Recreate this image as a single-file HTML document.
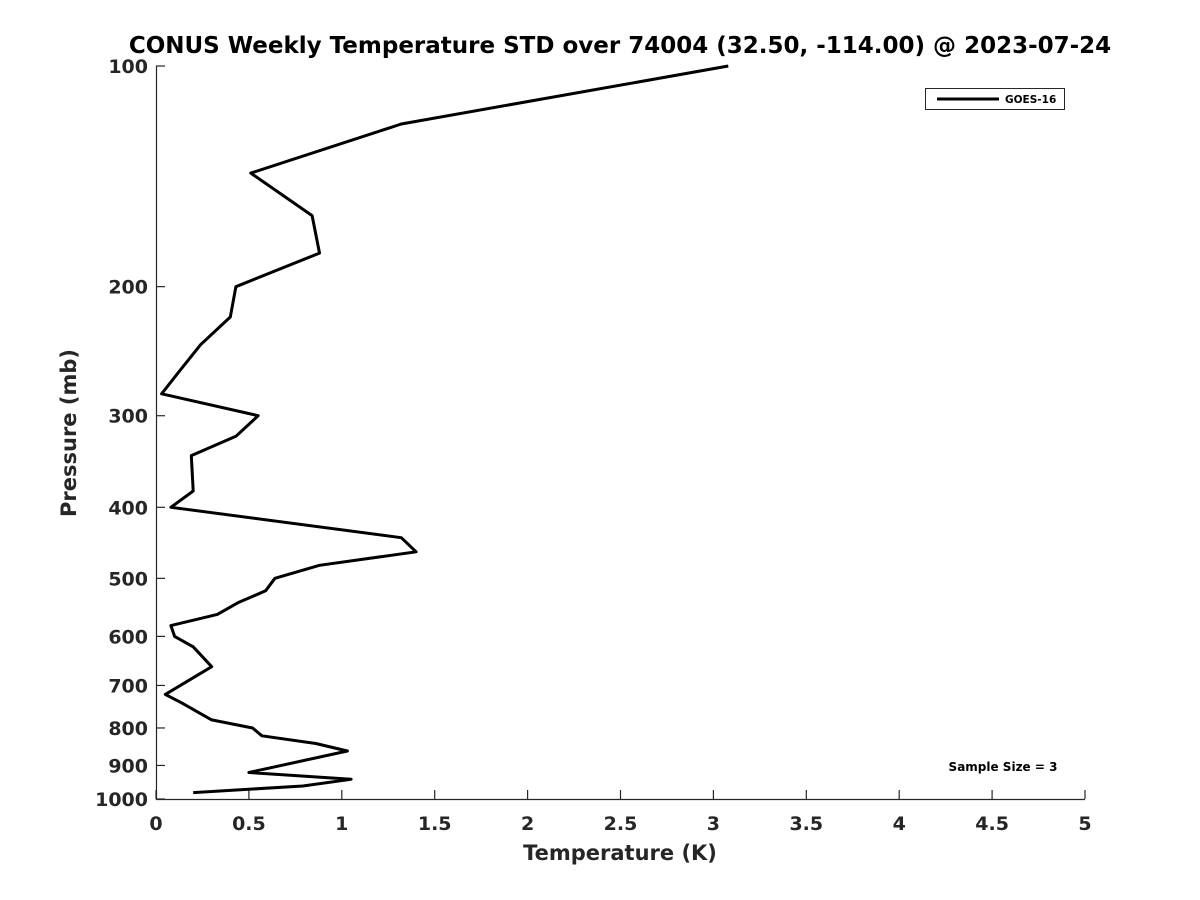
<!DOCTYPE html>
<html><head><meta charset="utf-8"><style>
html,body{margin:0;padding:0;background:#fff;}
svg{display:block;font-family:"DejaVu Sans","Liberation Sans",sans-serif;font-weight:bold;}
</style></head><body>
<svg id="chart" width="1200" height="900" viewBox="0 0 1200 900" xmlns="http://www.w3.org/2000/svg">
<rect width="1200" height="900" fill="#fff"/>
<text x="620" y="53" font-size="23" text-anchor="middle" fill="#000">CONUS Weekly Temperature STD over 74004 (32.50, -114.00) @ 2023-07-24</text>
<g id="axes"></g>
<text x="620" y="860" font-size="21" text-anchor="middle" fill="#262626">Temperature (K)</text>
<text transform="translate(76,433) rotate(-90)" font-size="21" text-anchor="middle" fill="#262626">Pressure (mb)</text>
<g>
<rect x="925.5" y="88.5" width="139" height="21" fill="#fff" stroke="#262626" stroke-width="1"/>
<line x1="937" y1="99" x2="999" y2="99" stroke="#000" stroke-width="3"/>
<text x="1005" y="103" font-size="10.5" fill="#000">GOES-16</text>
</g>
<text x="1003" y="771" font-size="12" text-anchor="middle" fill="#000">Sample Size = 3</text>
</svg>
<script>
const temps = [3.08,1.32,0.51,0.84,0.88,0.43,0.40,0.24,0.13,0.03,0.55,0.43,0.19,0.20,0.08,1.32,1.40,0.88,0.64,0.59,0.44,0.33,0.08,0.10,0.20,0.30,0.05,0.14,0.22,0.30,0.52,0.57,0.86,1.03,0.50,1.05,0.79,0.20];
const pressures = [100,120,140,160,180,200,220,240,260,280,300,320,340,380,400,440,460,480,500,520,540,560,580,600,620,660,720,740,760,780,800,820,840,860,920,940,960,980];
const xTicks = [0,0.5,1,1.5,2,2.5,3,3.5,4,4.5,5];
const xTickLabels = ["0","0.5","1","1.5","2","2.5","3","3.5","4","4.5","5"];
const yTicks = [100,200,300,400,500,600,700,800,900,1000];
const yTickLabels = ["100","200","300","400","500","600","700","800","900","1000"];

const X0=156, X1=1085, Y0=66, Y1=799;
const xs = v => X0 + (v-0)/(5-0)*(X1-X0);
const ys = p => Y0 + (Math.log10(p)-2)/(3-2)*(Y1-Y0);
const NS="http://www.w3.org/2000/svg";
const g=document.getElementById('axes');
function mk(tag,attrs){const e=document.createElementNS(NS,tag);for(const k in attrs)e.setAttribute(k,attrs[k]);g.appendChild(e);return e;}

let ax=mk('path',{d:`M${X0+0.5},${Y0} V${Y1+0.5} H${X1}`,fill:'none',stroke:'#262626','stroke-width':1.2});



xTicks.forEach((v,i)=>{
  const x=xs(v);
  const t=mk('line',{x1:x,y1:Y1,x2:x,y2:Y1-9,stroke:'#262626','stroke-width':1.2});
  
  
  const l=mk('text',{x:x,y:Y1+31,'font-size':19,'text-anchor':'middle',fill:'#262626'});
  l.textContent=xTickLabels[i];
  
  
});
yTicks.forEach((p,i)=>{
  const y=ys(p);
  const t=mk('line',{x1:X0,y1:y,x2:X0+9,y2:y,stroke:'#262626','stroke-width':1.2});
  
  
  const l=mk('text',{x:X0-8,y:y+7,'font-size':19,'text-anchor':'end',fill:'#262626'});
  l.textContent=yTickLabels[i];
  
  
});
const pts=temps.map((t,i)=>xs(t).toFixed(1)+','+ys(pressures[i]).toFixed(1)).join(' ');
const line=mk('polyline',{points:pts,fill:'none',stroke:'#000','stroke-width':3,'stroke-linejoin':'round'});


</script>
</body></html>
